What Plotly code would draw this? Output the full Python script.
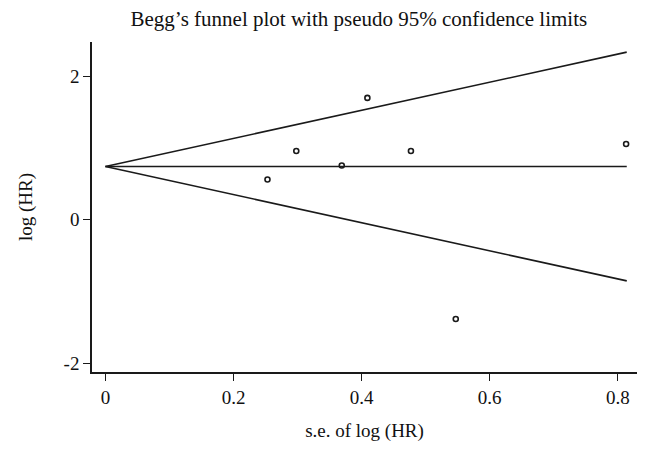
import plotly.graph_objects as go

# Study data
se_log_hr = [0.253, 0.298, 0.369, 0.409, 0.477, 0.547, 0.813]
log_hr = [0.562, 0.960, 0.757, 1.700, 0.960, -1.385, 1.056]

pooled = 0.743          # pooled log(HR) (centre line)
z = 1.96                # pseudo 95% limits
se_max = 0.814

x_ticks = [0, 0.2, 0.4, 0.6, 0.8]
x_tick_labels = ["0", "0.2", "0.4", "0.6", "0.8"]
y_ticks = [-2, 0, 2]
y_tick_labels = ["-2", "0", "2"]

FONT = "Liberation Serif, Times New Roman, serif"
LINE = "#1a1a1a"

fig = go.Figure()

# Funnel: upper limit, centre, lower limit
fig.add_trace(go.Scatter(x=[0, se_max], y=[pooled, pooled + z * se_max], mode="lines",
                         line=dict(color=LINE, width=1.6), hoverinfo="skip", showlegend=False))
fig.add_trace(go.Scatter(x=[0, se_max], y=[pooled, pooled], mode="lines",
                         line=dict(color=LINE, width=1.6), hoverinfo="skip", showlegend=False))
fig.add_trace(go.Scatter(x=[0, se_max], y=[pooled, pooled - z * se_max], mode="lines",
                         line=dict(color=LINE, width=1.6), hoverinfo="skip", showlegend=False))

# Studies
fig.add_trace(go.Scatter(x=se_log_hr, y=log_hr, mode="markers",
                         marker=dict(symbol="circle-open", size=5, color=LINE,
                                     line=dict(width=1.6, color=LINE)),
                         showlegend=False))

fig.update_layout(
    width=651, height=458,
    paper_bgcolor="white", plot_bgcolor="white",
    margin=dict(l=84, r=22, t=34, b=94),
    font=dict(family=FONT, color="#111111", size=19),
    title=dict(text="Begg’s funnel plot with pseudo 95% confidence limits",
               x=0.539, xanchor="center", y=0.976, yanchor="middle",
               font=dict(family=FONT, size=21, color="#111111")),
    xaxis=dict(range=[-0.021, 0.83], tickvals=x_ticks, ticktext=x_tick_labels,
               showgrid=False, zeroline=False, showline=True, linecolor=LINE, linewidth=1.6,
               ticks="outside", ticklen=7, tickwidth=1.4, tickcolor=LINE,
               tickfont=dict(family=FONT, size=19), automargin=False,
               title=dict(text="s.e. of log (HR)", font=dict(family=FONT, size=19), standoff=17)),
    yaxis=dict(range=[-2.124, 2.48], tickvals=y_ticks, ticktext=y_tick_labels,
               showgrid=False, zeroline=False, showline=True, linecolor=LINE, linewidth=1.6,
               ticks="outside", ticklen=7, tickwidth=1.4, tickcolor=LINE,
               tickfont=dict(family=FONT, size=19), automargin=False,
               title=dict(text="log (HR)", font=dict(family=FONT, size=19), standoff=26)),
)

fig.write_html("out.html")
